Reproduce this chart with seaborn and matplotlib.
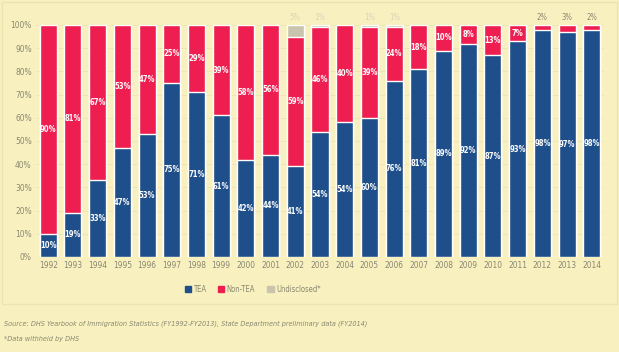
import seaborn as sns
import matplotlib.pyplot as plt
import pandas as pd
import numpy as np
from matplotlib.patches import Rectangle

# ---- data ----
years = [str(y) for y in range(1992, 2015)]
tea = [10, 19, 33, 47, 53, 75, 71, 61, 42, 44, 39, 54, 58, 60, 76, 81, 89, 92, 87, 93, 98, 97, 98]
non_tea = [90, 81, 67, 53, 47, 25, 29, 39, 58, 56, 56, 45, 42, 39, 23, 19, 11, 8, 13, 7, 2, 3, 2]
undisclosed = [0, 0, 0, 0, 0, 0, 0, 0, 0, 0, 5, 1, 0, 1, 1, 0, 0, 0, 0, 0, 0, 0, 0]

tea_labels = ["10%", "19%", "33%", "47%", "53%", "75%", "71%", "61%", "42%", "44%", "41%", "54%",
              "54%", "60%", "76%", "81%", "89%", "92%", "87%", "93%", "98%", "97%", "98%"]
non_labels = ["90%", "81%", "67%", "53%", "47%", "25%", "29%", "39%", "58%", "56%", "59%", "46%",
              "40%", "39%", "24%", "18%", "10%", "8%", "13%", "7%", "2%", "3%", "2%"]
und_labels = ["", "", "", "", "", "", "", "", "", "", "5%", "1%", "", "1%", "1%", "", "", "", "", "", "", "", ""]

BG = "#f8f1bf"
BLUE = "#1f4f8a"
RED = "#ee1f50"
GREY = "#c9c4ae"
TXT = "#8a8670"

df = pd.DataFrame({"year": years, "tea": tea, "non": non_tea, "und": undisclosed})
df["top_non"] = df["tea"] + df["non"]
df["top_und"] = df["top_non"] + df["und"]

sns.set_theme(style="white")
plt.rcParams["font.family"] = ["DejaVu Sans"]
plt.rcParams["font.stretch"] = "condensed"

fig = plt.figure(figsize=(6.19, 3.52), dpi=100, facecolor=BG)
fig.patches.append(Rectangle((0.004, 0.135), 0.992, 0.86, transform=fig.transFigure,
                             facecolor="none", edgecolor="#ece4b0", lw=1.0))
ax = fig.add_axes([0.058, 0.270, 0.918, 0.659])
ax.set_facecolor(BG)

sns.barplot(data=df, x="year", y="top_und", color=GREY, width=0.69, saturation=1, ax=ax, zorder=2)
sns.barplot(data=df, x="year", y="top_non", color=RED, width=0.69, saturation=1, ax=ax, zorder=3)
sns.barplot(data=df, x="year", y="tea", color=BLUE, width=0.69, saturation=1, ax=ax, zorder=4)

for i in range(len(years)):
    ax.text(i, tea[i] / 2, tea_labels[i], ha="center", va="center", color="white",
            fontsize=5.5, fontweight="bold", zorder=5)
    if non_tea[i] >= 6:
        ax.text(i, tea[i] + non_tea[i] / 2, non_labels[i], ha="center", va="center",
                color="white", fontsize=5.5, fontweight="bold", zorder=5)
    else:
        ax.text(i, 101.5, non_labels[i], ha="center", va="bottom", color=TXT,
                fontsize=5.5, zorder=5, clip_on=False)
    if und_labels[i]:
        ax.text(i, 101.5, und_labels[i], ha="center", va="bottom", color="#d8d2b8",
                fontsize=5.5, zorder=5, clip_on=False)

ax.set_ylim(0, 100)
ax.set_xlim(-0.5, len(years) - 0.5)
ax.set_yticks(range(0, 101, 10))
ax.set_yticklabels([f"{v}%" for v in range(0, 101, 10)])
ax.yaxis.grid(True, color="#ebe3b2", lw=0.6, zorder=0)
ax.tick_params(axis="both", labelsize=6, colors=TXT, length=0, pad=3)
ax.set_xlabel("")
ax.set_ylabel("")
sns.despine(ax=ax, left=True, bottom=True)

# legend
handles = [Rectangle((0, 0), 1, 1, color=c) for c in (BLUE, RED, GREY)]
fig.legend(handles, ["TEA", "Non-TEA", "Undisclosed*"], loc="center", bbox_to_anchor=(0.408, 0.178),
           ncol=3, frameon=False, fontsize=5.5, handlelength=0.8, handleheight=0.8,
           handletextpad=0.3, columnspacing=1.6, labelcolor=TXT)

fig.text(0.006, 0.074, "Source: DHS Yearbook of Immigration Statistics (FY1992-FY2013), State Department preliminary data (FY2014)",
         fontsize=5.2, style="italic", color=TXT)
fig.text(0.006, 0.032, "*Data withheld by DHS", fontsize=5.2, style="italic", color=TXT)

plt.savefig("out.png", dpi=100, facecolor=BG)
plt.close()
